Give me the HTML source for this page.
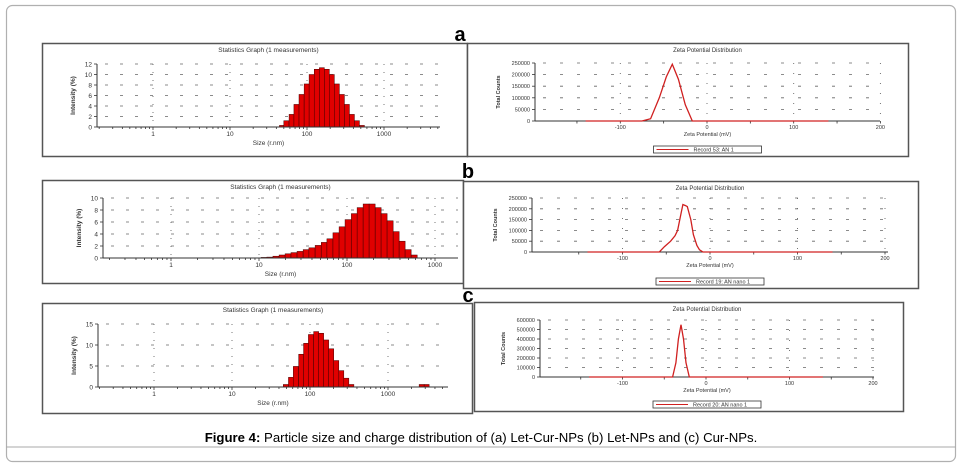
<!DOCTYPE html>
<html><head><meta charset="utf-8"><style>
html,body{margin:0;padding:0;background:#fff;}
svg{display:block;font-family:"Liberation Sans",sans-serif;}
</style></head><body>
<svg id="fig" width="962" height="469" viewBox="0 0 962 469">
<rect x="6.5" y="5.5" width="949" height="456" rx="6" fill="#fff" stroke="#b0b0b0" stroke-width="1.2"/>
<text x="460" y="41" font-size="20" font-weight="bold" text-anchor="middle">a</text>
<text x="468" y="178" font-size="20" font-weight="bold" text-anchor="middle">b</text>
<text x="468" y="302" font-size="20" font-weight="bold" text-anchor="middle">c</text>
<text x="481" y="442" font-size="13.2" text-anchor="middle"><tspan font-weight="bold">Figure 4:</tspan> Particle size and charge distribution of (a) Let-Cur-NPs (b) Let-NPs and (c) Cur-NPs.</text>
</svg>
<script>
// ---- Panel a: size distribution ----
const sizeA = [47,54,63,73,85,99,115,134,156,181,210,244,284,330,383,445,517];
const intensityA = [0.3,1.2,2.4,4.3,6.2,8.2,10,11,11.3,11,10,8.2,6.2,4.3,2.4,1.2,0.3];
const yTicksA = [0,2,4,6,8,10,12];
// ---- Panel b: size distribution ----
const sizeB = [11.4,13.3,15.6,18.3,21.4,25,29.3,34.3,40,47,55,64,75,88,103,121,141,165,193,226,264,309,362,423,495,580];
const intensityB = [0.1,0.15,0.3,0.5,0.7,0.9,1.1,1.4,1.7,2.1,2.6,3.2,4.2,5.2,6.4,7.4,8.4,9,9,8.4,7.4,6.2,4.4,2.8,1.4,0.5];
const yTicksB = [0,2,4,6,8,10];
// ---- Panel c: size distribution ----
const sizeC = [49,57,66,77,89,103,120,139,161,187,217,252,292,339,2700,3130];
const intensityC = [0.6,2.3,4.9,7.8,10.4,12.5,13.2,12.8,11.2,9.1,6.3,3.9,2.1,0.6,0.6,0.6];
const yTicksC = [0,5,10,15];
const sizeTickLabels = [1,10,100,1000];
// ---- Zeta panels ----
const zetaXA = [-140,-75,-65,-55,-47,-40,-33,-25,-17,-10,140];
const zetaYA = [0,0,10000,100000,190000,245000,180000,70000,0,0,0];
const zetaTicksA = [0,50000,100000,150000,200000,250000];
const zetaXB = [-140,-58,-52,-45,-40,-37,-33,-31,-28,-26,-22,-19,-15,-12,-8,140];
const zetaYB = [0,0,25000,50000,75000,100000,180000,220000,215000,210000,150000,80000,30000,10000,0,0];
const zetaTicksB = [0,50000,100000,150000,200000,250000];
const zetaXC = [-140,-40,-36,-33,-30,-27,-24,-20,140];
const zetaYC = [0,0,150000,400000,550000,400000,150000,0,0];
const zetaTicksC = [0,100000,200000,300000,400000,500000,600000];
const zetaTickLabels = [-100,0,100,200];

const NS = 'http://www.w3.org/2000/svg';
const svg = document.getElementById('fig');
function mk(tag, attrs, parent, text) {
  const e = document.createElementNS(NS, tag);
  for (const k in attrs) e.setAttribute(k, attrs[k]);
  if (text !== undefined) e.textContent = text;
  (parent || svg).appendChild(e);
  return e;
}

function frame(g, b) {
  const r = mk('rect', {x:b[0]+0.5, y:b[1]+0.5, width:b[2]-b[0], height:b[3]-b[1], fill:'#fff', stroke:'#555', 'stroke-width':1.5}, g);
  
  
}

function sizePanel(name, box, plot, dec1x, decPx, yMax, yTicks, sizes, vals, title) {
  const g = mk('g', {});
  
  
  frame(g, box);
  const [x0, y0, x1, y1] = plot; // y0 top, y1 bottom
  const xs = v => dec1x + Math.log10(v) * decPx;
  const ys = v => y1 - (v / yMax) * (y1 - y0);
  const t = mk('text', {x:(x0+x1)/2, y:box[1]+9, 'font-size':6.5, 'text-anchor':'middle', fill:'#333'}, g, title);
  
  
  // grid
  yTicks.forEach(v => {
    if (v === 0) return;
    const l = mk('line', {x1:x0+8, x2:x1, y1:ys(v), y2:ys(v), stroke:'#666', 'stroke-width':0.8, 'stroke-dasharray':'3,12'}, g);
    
    
  });
  sizeTickLabels.forEach(v => {
    const l = mk('line', {x1:xs(v), x2:xs(v), y1:y0, y2:y1, stroke:'#666', 'stroke-width':0.9, 'stroke-dasharray':'1,7'}, g);
    
    
  });
  // bars
  for (let i = 0; i < sizes.length; i++) {
    const lc = Math.log10(sizes[i]);
    let w;
    if (i + 1 < sizes.length && sizes[i+1] / sizes[i] < 1.5) w = Math.log10(sizes[i+1]) - lc;
    else if (i > 0 && sizes[i] / sizes[i-1] < 1.5) w = lc - Math.log10(sizes[i-1]);
    else w = 0.065;
    const bx = dec1x + (lc - w/2) * decPx, bw = w * decPx;
    const b = mk('rect', {x:bx, y:ys(vals[i]), width:bw, height:y1 - ys(vals[i]), fill:'#e00000', stroke:'#400', 'stroke-width':0.5}, g);
    
    
  }
  // axes
  const ax = mk('line', {x1:x0, x2:x1, y1:y1, y2:y1, stroke:'#333', 'stroke-width':1}, g);
  
  
  const ay = mk('line', {x1:x0, x2:x0, y1:y0, y2:y1, stroke:'#333', 'stroke-width':1}, g);
  
  
  yTicks.forEach(v => {
    mk('line', {x1:x0-3, x2:x0, y1:ys(v), y2:ys(v), stroke:'#333', 'stroke-width':0.8}, g);
    const tl = mk('text', {x:x0-5, y:ys(v)+2.3, 'font-size':6.5, 'text-anchor':'end', fill:'#333'}, g, String(v));
    
    
  });
  sizeTickLabels.forEach(v => {
    if (xs(v) > x1) return;
    const tl = mk('text', {x:xs(v), y:y1+9, 'font-size':6.5, 'text-anchor':'middle', fill:'#333'}, g, String(v));
    
    
  });
  // minor log ticks
  for (let d = -1; d <= 3; d++) for (let m = 1; m < 10; m++) {
    const v = m * Math.pow(10, d), xx = xs(v);
    if (xx < x0 || xx > x1) continue;
    mk('line', {x1:xx, x2:xx, y1:y1, y2:y1+(m===1?3:2), stroke:'#333', 'stroke-width':0.8}, g);
  }
  const xt = mk('text', {x:(x0+x1)/2, y:y1+18, 'font-size':6.5, 'text-anchor':'middle', fill:'#333'}, g, 'Size (r.nm)');
  
  
  const yt = mk('text', {x:0, y:0, 'font-size':6.5, 'font-weight':'bold', 'text-anchor':'middle', fill:'#333', transform:`translate(${x0-22},${(y0+y1)/2}) rotate(-90)`}, g, 'Intensity (%)');
  
  
}

function zetaPanel(name, box, plot, zeroX, px100, yMax, yTicks, xv, yv, legend) {
  const g = mk('g', {});
  
  
  frame(g, box);
  const [x0, y0, x1, y1] = plot;
  const xs = v => zeroX + v / 100 * px100;
  const ys = v => y1 - (v / yMax) * (y1 - y0);
  const t = mk('text', {x:(x0+x1)/2, y:box[1]+9, 'font-size':6, 'text-anchor':'middle', fill:'#333'}, g, 'Zeta Potential Distribution');
  
  
  yTicks.forEach(v => {
    if (v === 0) return;
    const l = mk('line', {x1:x0+8, x2:x1, y1:ys(v), y2:ys(v), stroke:'#666', 'stroke-width':0.8, 'stroke-dasharray':'3,14'}, g);
    
    
  });
  zetaTickLabels.forEach(v => {
    const l = mk('line', {x1:xs(v), x2:xs(v), y1:y0, y2:y1, stroke:'#666', 'stroke-width':0.9, 'stroke-dasharray':'1,9'}, g);
    
    
  });
  const ax = mk('line', {x1:x0, x2:x1, y1:y1, y2:y1, stroke:'#333', 'stroke-width':1}, g);
  
  
  const ay = mk('line', {x1:x0, x2:x0, y1:y0, y2:y1, stroke:'#333', 'stroke-width':1}, g);
  
  
  yTicks.forEach(v => {
    mk('line', {x1:x0-3, x2:x0, y1:ys(v), y2:ys(v), stroke:'#333', 'stroke-width':0.8}, g);
    const tl = mk('text', {x:x0-5, y:ys(v)+2, 'font-size':5.5, 'text-anchor':'end', fill:'#333'}, g, String(v));
    
    
  });
  for (let v = -150; v <= 200; v += 50) mk('line', {x1:xs(v), x2:xs(v), y1:y1, y2:y1+2.5, stroke:'#333', 'stroke-width':0.8}, g);
  zetaTickLabels.forEach(v => {
    const tl = mk('text', {x:xs(v), y:y1+8, 'font-size':5.5, 'text-anchor':'middle', fill:'#333'}, g, String(v));
    
    
  });
  const xt = mk('text', {x:(x0+x1)/2, y:y1+15, 'font-size':5.5, 'text-anchor':'middle', fill:'#333'}, g, 'Zeta Potential (mV)');
  
  
  const yt = mk('text', {x:0, y:0, 'font-size':5.5, 'font-weight':'bold', 'text-anchor':'middle', fill:'#333', transform:`translate(${x0-35},${(y0+y1)/2}) rotate(-90)`}, g, 'Total Counts');
  
  
  const pts = xv.map((v, i) => xs(v).toFixed(1) + ',' + ys(yv[i]).toFixed(1)).join(' ');
  const pl = mk('polyline', {points:pts, fill:'none', stroke:'#d02020', 'stroke-width':1.3}, g);
  
  
  // legend
  const lx = (x0+x1)/2 - 54, ly = box[3] - 10;
  const lg = mk('g', {}, g);
  
  
  mk('rect', {x:lx, y:ly, width:108, height:7, fill:'#fff', stroke:'#333', 'stroke-width':0.8}, lg);
  mk('line', {x1:lx+3, x2:lx+35, y1:ly+3.5, y2:ly+3.5, stroke:'#d02020', 'stroke-width':1}, lg);
  mk('text', {x:lx+40, y:ly+5.6, 'font-size':5.5, fill:'#333'}, lg, legend);
}

sizePanel('size-chart-a', [42,43,467,156], [97,64,440,127], 153 - 0*77, 77, 12, yTicksA, sizeA, intensityA, 'Statistics Graph (1 measurements)');
zetaPanel('zeta-chart-a', [467,43,908,156], [535,63,880,121], 707, 86.7, 250000, zetaTicksA, zetaXA, zetaYA, 'Record 53: AN 1');
sizePanel('size-chart-b', [42,180,463,283], [103,198,458,258], 171, 88, 10, yTicksB, sizeB, intensityB, 'Statistics Graph (1 measurements)');
zetaPanel('zeta-chart-b', [463,181,918,288], [532,198,888,252], 710, 87.5, 250000, zetaTicksB, zetaXB, zetaYB, 'Record 19: AN nano 1');
sizePanel('size-chart-c', [42,303,472,413], [98,324,448,387], 154, 78, 15, yTicksC, sizeC, intensityC, 'Statistics Graph (1 measurements)');
zetaPanel('zeta-chart-c', [474,302,903,411], [540,320,874,377], 706, 83.5, 600000, zetaTicksC, zetaXC, zetaYC, 'Record 20: AN nano 1');

const line = mk('line', {x1:6, x2:956, y1:447, y2:447, stroke:'#aaa', 'stroke-width':1});


</script>
</body></html>
